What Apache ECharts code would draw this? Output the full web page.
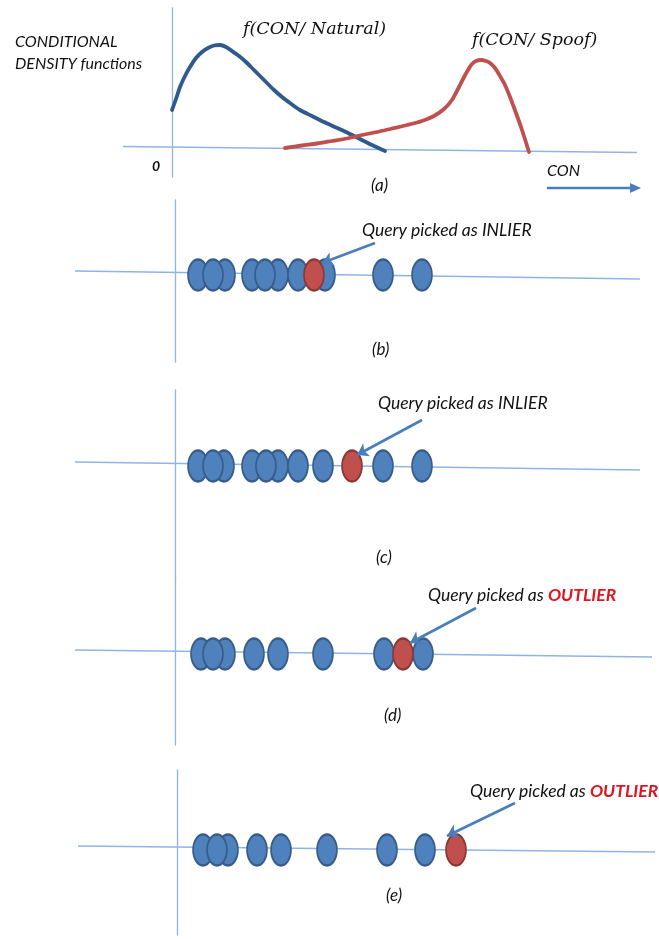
<!DOCTYPE html>
<html>
<head>
<meta charset="utf-8">
<style>
  html, body { margin: 0; padding: 0; background: #ffffff; }
  #chart { width: 659px; height: 939px; }
</style>
<script src="https://cdn.jsdelivr.net/npm/echarts@6/dist/echarts.min.js"></script>
</head>
<body>
<div id="chart"></div>
<script>
// (a) conditional densities of CON: [CON, density]
const naturalDensity = [[0,37],[4,48],[8,60],[13,71],[18,80],[24,89],[30,95],[36,99],[42,101.5],[48,102],[54,100],[60,96],[67,91],[74,85],[81,78],[88,71],[95,64],[102,57],[110,50],[118,44],[128,37],[140,31],[152,25],[164,19.5],[176,14],[188,8],[200,2],[213,-4]];
const spoofDensity = [[113,-1],[130,1.5],[145,3.5],[160,6],[175,8.5],[190,12],[205,15],[220,18.5],[235,22],[250,26],[262,31],[272,38],[280,47],[286,58],[291,68],[296,77],[300,83],[304,86],[309,87],[314,86],[318,84],[323,79],[328,71],[333,62],[338,50],[344,34],[350,17],[357,-5]];

// (b)-(e) CON values of the reference samples and the query sample
const samplesB = [23, 50, 38, 77, 103, 90, 123, 150, 208, 247];
const queryB = [139];
const samplesC = [23, 49, 38, 77, 103, 91, 123, 148, 208, 247];
const queryC = [177];
const samplesD = [26, 50, 38, 79, 103, 148, 209, 248];
const queryD = [228];
const samplesE = [26, 51, 40, 80, 104, 150, 210, 248];
const queryE = [279];

// CON baselines of each panel: [start, end]
const baselineA = [[-49, 0.5], [465, -5.5]];
const baselineB = [[-100, 4], [465, -4]];
const baselineC = [[-100, 4], [465, -4]];
const baselineD = [[-100, 4], [477, -3]];
const baselineE = [[-99, 4], [478, -2]];

// query arrows: [tail, head] as [CON, height]
const arrowB = [[200, 32], [147, 12]];
const arrowC = [[247, 46], [182, 11]];
const arrowD = [[301, 46], [235, 11]];
const arrowE = [[338, 47], [270, 14]];

const AXIS_COLOR = '#8EB4E3';
const BLUE = '#4F81BD', BLUE_EDGE = '#385D8A';
const RED = '#C0504D', RED_EDGE = '#8C3836';
const LABEL_FONT = 'Lato, "Open Sans", sans-serif';

const grids = [
  { left: 123, top: 8, width: 514, height: 169 },
  { left: 75, top: 200, width: 565, height: 162 },
  { left: 75, top: 390, width: 565, height: 188 },
  { left: 75, top: 577, width: 577, height: 168 },
  { left: 78, top: 770, width: 577, height: 165 }
];
const xRanges = [[-49, 465], [-100, 465], [-100, 465], [-100, 477], [-99, 478]];
const yRanges = [[-30, 139], [-87, 75], [-112, 76], [-91, 77], [-85, 80]];

const hidden = {
  axisTick: { show: false },
  axisLabel: { show: false },
  splitLine: { show: false }
};

const xAxes = xRanges.map((r, i) => Object.assign({ type: 'value', gridIndex: i, min: r[0], max: r[1],
  axisLine: { show: false } }, hidden));
const yAxes = yRanges.map((r, i) => Object.assign({ type: 'value', gridIndex: i, min: r[0], max: r[1],
  axisLine: { show: true, onZero: true, lineStyle: { color: AXIS_COLOR, width: 1.3 } } }, hidden));

function baseline(idx, data) {
  return {
    type: 'line', xAxisIndex: idx, yAxisIndex: idx, data: data,
    showSymbol: false, symbol: 'none', silent: true,
    lineStyle: { color: AXIS_COLOR, width: 1.3 }, z: 1
  };
}

function densityLine(data, color) {
  return {
    type: 'line', xAxisIndex: 0, yAxisIndex: 0, data: data,
    smooth: 0.25, showSymbol: false, symbol: 'none',
    lineStyle: { color: color, width: 3.8, cap: 'round', join: 'round' },
    z: 3
  };
}

function dots(idx, values, fill, edge, z) {
  return {
    type: 'scatter', xAxisIndex: idx, yAxisIndex: idx,
    data: values.map(v => [v, 0]),
    symbol: 'circle', symbolSize: [20, 31],
    itemStyle: { color: fill, borderColor: edge, borderWidth: 2, opacity: 1 },
    z: z
  };
}

function arrow(idx, coords) {
  return {
    type: 'lines', coordinateSystem: 'cartesian2d', xAxisIndex: idx, yAxisIndex: idx,
    data: [{ coords: coords }],
    symbol: ['none', 'arrow'], symbolSize: 11,
    lineStyle: { color: '#4A7EBB', width: 2.6, opacity: 1, curveness: 0 },
    clip: false, z: 6
  };
}

const series = [
  baseline(0, baselineA), baseline(1, baselineB), baseline(2, baselineC),
  baseline(3, baselineD), baseline(4, baselineE),
  densityLine(naturalDensity, '#2E5A8E'),
  densityLine(spoofDensity, '#C0504D'),
  dots(1, samplesB, BLUE, BLUE_EDGE, 4), dots(1, queryB, RED, RED_EDGE, 5), arrow(1, arrowB),
  dots(2, samplesC, BLUE, BLUE_EDGE, 4), dots(2, queryC, RED, RED_EDGE, 5), arrow(2, arrowC),
  dots(3, samplesD, BLUE, BLUE_EDGE, 4), dots(3, queryD, RED, RED_EDGE, 5), arrow(3, arrowD),
  dots(4, samplesE, BLUE, BLUE_EDGE, 4), dots(4, queryE, RED, RED_EDGE, 5), arrow(4, arrowE)
];

function text(x, y, str, font) {
  return {
    type: 'text', left: x, top: y, z: 10,
    style: { text: str, fill: '#111111', font: font }
  };
}

function queryLabel(x, y, verdict, outlier) {
  return {
    type: 'text', left: x, top: y - 11, z: 10,
    style: {
      text: '{n|Query picked as }{' + (outlier ? 'o' : 'n') + '|' + verdict + '}',
      rich: {
        n: { font: 'italic 17.5px ' + LABEL_FONT, fill: '#111111' },
        o: { font: 'italic bold 17.5px ' + LABEL_FONT, fill: '#E0141E' }
      }
    }
  };
}

const small = 'italic 16px ' + LABEL_FONT;
const math = 'italic 17.5px "DejaVu Serif", serif';
const panelTag = 'italic 17px ' + LABEL_FONT;

const graphics = [
  text(15, 34, 'CONDITIONAL', small),
  text(15, 56, 'DENSITY functions', small),
  text(243, 20, 'f(CON/ Natural)', math),
  text(472, 31, 'f(CON/ Spoof)', math),
  text(152, 159, '0', 'italic bold 14px ' + LABEL_FONT),
  text(371, 177, '(a)', panelTag),
  text(547, 163, 'CON', 'italic 16px ' + LABEL_FONT),
  {
    type: 'line', z: 10,
    shape: { x1: 547, y1: 188, x2: 632, y2: 188 },
    style: { stroke: '#4A7EBB', lineWidth: 2.6 }
  },
  {
    type: 'polygon', z: 10,
    shape: { points: [[630, 183], [641, 188], [630, 193]] },
    style: { fill: '#4A7EBB' }
  },
  queryLabel(362, 232, 'INLIER', false),
  queryLabel(378, 405, 'INLIER', false),
  queryLabel(428, 597, 'OUTLIER', true),
  queryLabel(470, 793, 'OUTLIER', true),
  text(372, 341, '(b)', panelTag),
  text(376, 549, '(c)', panelTag),
  text(384, 707, '(d)', panelTag),
  text(386, 887, '(e)', panelTag)
];

const chart = echarts.init(document.getElementById('chart'), null, { renderer: 'canvas' });
chart.setOption({
  animation: false,
  backgroundColor: '#ffffff',
  grid: grids,
  xAxis: xAxes,
  yAxis: yAxes,
  series: series,
  graphic: graphics
});
</script>
</body>
</html>
